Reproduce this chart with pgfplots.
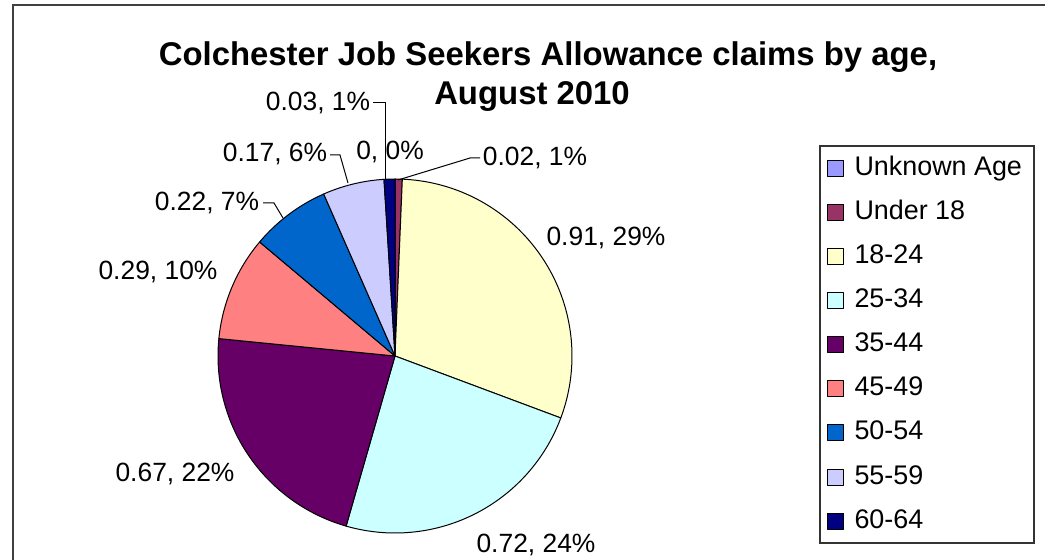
\documentclass[border=0pt]{standalone}
\usepackage{pgfplots}
\pgfplotsset{compat=1.18}
\usepackage{fontspec}
\setmainfont{Liberation Sans}
\definecolor{cUnk}{HTML}{9999FF}
\definecolor{cU18}{HTML}{993366}
\definecolor{cA}{HTML}{FFFFCC}
\definecolor{cB}{HTML}{CCFFFF}
\definecolor{cC}{HTML}{660066}
\definecolor{cD}{HTML}{FF8080}
\definecolor{cE}{HTML}{0066CC}
\definecolor{cF}{HTML}{CCCCFF}
\definecolor{cG}{HTML}{000080}
% slice: #1 = cumulative start value, #2 = value, #3 = colour ; total 3.03
\newcommand{\slice}[3]{%
  \addplot[fill=#3, draw=black, line width=1bp, line join=round,
    samples at={-1,0,...,72,73}, variable=\k]
    ({395+(\k>-0.5)*(\k<72.5)*177*cos(90-(#1+\k/72*#2)*360/3.03)},
     {204+(\k>-0.5)*(\k<72.5)*177*sin(90-(#1+\k/72*#2)*360/3.03)});}
\begin{document}
\begin{tikzpicture}
\begin{axis}[
  at={(0,0)}, anchor=south west,
  scale only axis, width=1045bp, height=560bp,
  xmin=0, xmax=1045, ymin=0, ymax=560,
  hide axis, clip=false,
  legend image code/.code={\draw[#1, line width=1bp] (0bp,-8bp) rectangle (16bp,8bp);},
  legend cell align=left,
  legend style={at={(axis cs:819,415)}, anchor=north west, draw=black!80, line width=2bp,
    inner xsep=7bp, inner ysep=10bp, row sep=20.15bp,
    /tikz/every odd column/.append style={column sep=5bp},
    font=\fontsize{27}{30}\selectfont,
    nodes={inner xsep=5.5bp, inner ysep=0pt, text height=19bp, text depth=5bp}},
]
\slice{0}{0}{cUnk}
\addlegendentry{Unknown Age}
\slice{0}{0.02}{cU18}
\addlegendentry{Under 18}
\slice{0.02}{0.91}{cA}
\addlegendentry{18-24}
\slice{0.93}{0.72}{cB}
\addlegendentry{25-34}
\slice{1.65}{0.67}{cC}
\addlegendentry{35-44}
\slice{2.32}{0.29}{cD}
\addlegendentry{45-49}
\slice{2.61}{0.22}{cE}
\addlegendentry{50-54}
\slice{2.83}{0.17}{cF}
\addlegendentry{55-59}
\slice{3.00}{0.03}{cG}
\addlegendentry{60-64}

\draw[line width=2.5bp, black!75] (axis cs:13,555) rectangle (axis cs:1080,-30);

\node[font=\bfseries\fontsize{33}{41}\selectfont] at (axis cs:548,503)
  {Colchester Job Seekers Allowance claims by age,};
\node[font=\bfseries\fontsize{33}{41}\selectfont] at (axis cs:532,463)
  {August 2010};

\begin{scope}[every node/.style={font=\fontsize{26.5}{30}\selectfont, inner sep=0pt}]
\node at (axis cs:606,322) {0.91, 29\%};
\node at (axis cs:536,15) {0.72, 24\%};
\node at (axis cs:175,86) {0.67, 22\%};
\node at (axis cs:158,288) {0.29, 10\%};
\node at (axis cs:207,357) {0.22, 7\%};
\node at (axis cs:275,406) {0.17, 6\%};
\node at (axis cs:318,457) {0.03, 1\%};
\node at (axis cs:390,408) {0, 0\%};
\node at (axis cs:535,402) {0.02, 1\%};
\end{scope}
\draw[line width=1bp] (axis cs:263,357) -- (axis cs:274,357) -- (axis cs:283,342);
\draw[line width=1bp] (axis cs:330,405) -- (axis cs:340,405) -- (axis cs:348,377);
\draw[line width=1bp] (axis cs:373,457) -- (axis cs:385,457) -- (axis cs:385,380);
\draw[line width=1bp] (axis cs:480,402) -- (axis cs:470,402) -- (axis cs:398,380);
\end{axis}
\pgfresetboundingbox
\useasboundingbox (0,0) rectangle (1045bp,560bp);
\end{tikzpicture}
\end{document}
